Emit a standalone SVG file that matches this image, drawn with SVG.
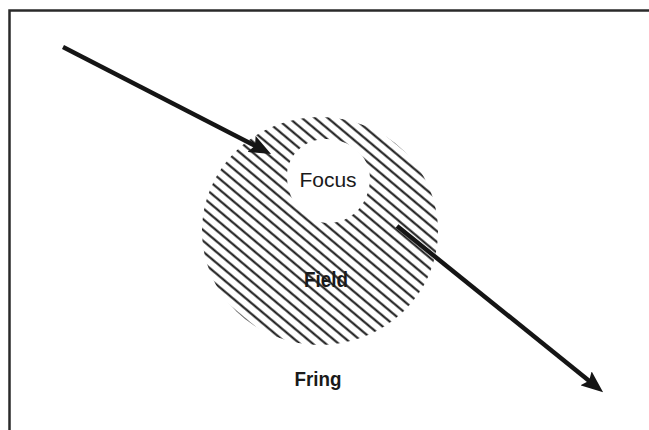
<svg xmlns="http://www.w3.org/2000/svg" width="649" height="430" viewBox="0 0 649 430">
  <style>
    .frame { fill: none; stroke: #2a2a2a; stroke-width: 2.5; }
    .conn { fill: none; stroke: #151515; stroke-width: 4.5; stroke-linecap: butt; }
    .lbl { font-family: "Liberation Sans", Arial, sans-serif; fill: #1a1a1a; text-anchor: middle; }
    .bold { font-weight: bold; }
  </style>
  <defs>
    <pattern id="hatch" patternUnits="userSpaceOnUse" width="8.3" height="8.3" patternTransform="rotate(40)">
      <line x1="0" y1="4.15" x2="8.3" y2="4.15" stroke="#111111" stroke-width="2"/>
    </pattern>
    <marker id="head" viewBox="0 0 22 18" markerUnits="userSpaceOnUse" markerWidth="22" markerHeight="18" refX="9" refY="9" orient="auto">
      <path d="M0,0 L22,9 L0,18 L4,9 Z" fill="#151515"/>
    </marker>
  </defs>
  <rect x="0" y="0" width="649" height="430" fill="#ffffff"/>
  <rect class="frame" x="9.5" y="10.5" width="700" height="500"/>

  <g id="field">
    <ellipse cx="320" cy="231" rx="118" ry="114" fill="url(#hatch)"/>
  </g>
  <g id="focus">
    <path d="M287,178 C286,156 304,139 326,139 C350,139 370,156 370,178 C370,203 352,223 329,223 C305,223 288,202 287,178 Z" fill="#ffffff"/>
    <text class="lbl" x="328" y="187" font-size="21">Focus</text>
  </g>
  <g id="field-label">
    <text class="lbl bold" x="326" y="287" font-size="22" textLength="44" lengthAdjust="spacingAndGlyphs">Field</text>
  </g>
  <g id="fring">
    <text class="lbl bold" x="318" y="386" font-size="21" textLength="47" lengthAdjust="spacingAndGlyphs">Fring</text>
  </g>

  <g id="connectors">
    <line class="conn" x1="63" y1="47" x2="259.5" y2="148" marker-end="url(#head)"/>
    <line class="conn" x1="397" y1="226" x2="593" y2="384" marker-end="url(#head)"/>
  </g>
</svg>
